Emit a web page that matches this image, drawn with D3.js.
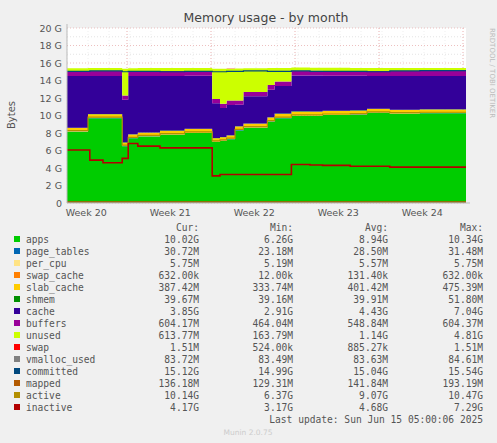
<!DOCTYPE html>
<html><head><meta charset="utf-8">
<script src="https://cdn.jsdelivr.net/npm/d3@7"></script>
<style>body{margin:0;background:#F0F0F0}svg{display:block}</style>
</head><body><svg id="c" width="497" height="443"></svg>
<script>
const T = [0,1.75,1.9,3,4.6,5.1,5.9,7.75,9.8,12.1,12.75,13.3,14,14.7,15.7,16.7,17.3,17.9,18.7,20.25,21.3,23.6,25,26.9,29.4,33.25];
const apps = [8.15,9.7,9.7,9.7,6.5,7.4,7.6,7.8,8.0,7.0,7.1,7.3,8.3,8.6,8.6,9.3,9.7,9.7,9.95,9.95,10.05,10.1,10.3,10.2,10.25,10.25];
const page_tables = T.map(()=>0.03);
const per_cpu = T.map(()=>0.006);
const swap_cache = T.map(()=>0.0006);
const slab_cache = [0.38,0.4,0.4,0.4,0.36,0.38,0.39,0.4,0.41,0.36,0.37,0.38,0.4,0.41,0.42,0.43,0.44,0.44,0.45,0.44,0.42,0.41,0.4,0.39,0.39,0.39];
const shmem = T.map(()=>0.04);
const cache = [5.9,4.35,4.35,4.35,4.85,6.65,6.45,6.25,6.05,3.95,3.3,3.45,2.45,3.1,3.1,3.15,3.15,3.15,4.1,4.1,4.0,3.95,3.75,3.85,3.8,3.8];
const buffers = [0.55,0.55,0.55,0.55,0.5,0.55,0.55,0.55,0.55,0.5,0.5,0.5,0.5,0.5,0.5,0.52,0.52,0.52,0.55,0.55,0.55,0.55,0.55,0.58,0.6,0.6];
const unused = [0.35,0.35,0.35,0.35,3.05,0.35,0.35,0.35,0.35,3.45,4.0,3.65,3.65,2.7,2.7,1.95,1.55,1.55,0.35,0.35,0.35,0.35,0.35,0.32,0.3,0.3];
const swap = T.map(()=>0.001);
const vmalloc_used = T.map(()=>0.084);
const committed = [15.05,15.05,15.1,15.1,15.0,15.05,15.05,15.0,15.05,15.0,15.0,15.05,15.05,15.1,15.1,15.05,15.05,15.05,15.1,15.05,15.05,15.05,15.0,15.1,15.12,15.12];
const mapped = T.map(()=>0.14);
const active = [8.28,9.82,9.82,9.82,6.62,7.5,7.72,7.92,8.12,7.1,7.22,7.42,8.42,8.72,8.72,9.42,9.82,9.82,10.07,10.07,10.17,10.22,10.42,10.32,10.37,10.37];
const inactive = [6.05,6.05,4.9,4.6,5.1,6.8,6.5,6.3,6.3,3.1,3.25,3.25,3.25,3.25,3.25,3.25,3.25,3.25,4.4,4.35,4.3,4.2,4.2,4.1,4.1,4.1];
const yTicks = [0,2,4,6,8,10,12,14,16,18,20];
const weeks = ["Week 20","Week 21","Week 22","Week 23","Week 24"];
const weekBounds = [5,12,19,26,33];
const legendRows = [
 ["apps","#00CC00","10.02G","6.26G","8.94G","10.34G"],
 ["page_tables","#0066B3","30.72M","23.18M","28.50M","31.48M"],
 ["per_cpu","#FFE384","5.75M","5.19M","5.57M","5.75M"],
 ["swap_cache","#FF8000","632.00k","12.00k","131.40k","632.00k"],
 ["slab_cache","#FFCC00","387.42M","333.74M","401.42M","475.39M"],
 ["shmem","#008F00","39.67M","39.16M","39.91M","51.80M"],
 ["cache","#330099","3.85G","2.91G","4.43G","7.04G"],
 ["buffers","#990099","604.17M","464.04M","548.84M","604.37M"],
 ["unused","#CCFF00","613.77M","163.79M","1.14G","4.81G"],
 ["swap","#FF0000","1.51M","524.00k","885.27k","1.51M"],
 ["vmalloc_used","#808080","83.72M","83.49M","83.63M","84.61M"],
 ["committed","#00487D","15.12G","14.99G","15.04G","15.54G"],
 ["mapped","#B35A00","136.18M","129.31M","141.84M","193.19M"],
 ["active","#B38F00","10.14G","6.37G","9.07G","10.47G"],
 ["inactive","#B30000","4.17G","3.17G","4.68G","7.29G"]];

const svg = d3.select("#c");
const x = d3.scaleLinear().domain([0,33.25]).range([67,466]);
const y = d3.scaleLinear().domain([0,20]).range([203,28]);
svg.append("rect").attr("x",67).attr("y",28).attr("width",399).attr("height",175).attr("fill","#fff");
// grid
d3.range(0,20.5,1).forEach(v=>svg.append("line").attr("x1",67).attr("x2",466).attr("y1",y(v)).attr("y2",y(v))
  .attr("stroke", v%2===0?"#e8b0b0":"#ddd").attr("stroke-dasharray","1,2").attr("stroke-width",0.8));
weekBounds.forEach(d=>svg.append("line").attr("x1",x(d)).attr("x2",x(d)).attr("y1",28).attr("y2",203)
  .attr("stroke","#e8b0b0").attr("stroke-dasharray","1,2"));
d3.range(0,33.25,1.75).forEach(d=>svg.append("line").attr("x1",x(d)).attr("x2",x(d)).attr("y1",28).attr("y2",203)
  .attr("stroke","#e4e4e4").attr("stroke-dasharray","1,2").attr("stroke-width",0.6));
// stack
const keys=["apps","page_tables","per_cpu","swap_cache","slab_cache","shmem","cache","buffers","unused","swap"];
const src={apps,page_tables,per_cpu,swap_cache,slab_cache,shmem,cache,buffers,unused,swap};
const rows=T.map((t,i)=>{const o={t};keys.forEach(k=>o[k]=src[k][i]);return o;});
const stk=d3.stack().keys(keys)(rows);
const col={}; legendRows.forEach(r=>col[r[0]]=r[1]);
const area=d3.area().curve(d3.curveStepAfter).x(d=>x(d.data.t)).y0(d=>y(d[0])).y1(d=>y(d[1]));
stk.forEach(s=>svg.append("path").attr("d",area(s)).attr("fill",col[s.key]));
const lines={vmalloc_used,committed,mapped,active,inactive};
Object.keys(lines).forEach(k=>{
  const l=d3.line().curve(d3.curveStepAfter).x((d,i)=>x(T[i])).y(d=>y(d));
  svg.append("path").attr("d",l(lines[k])).attr("fill","none").attr("stroke",col[k]).attr("stroke-width",k==="inactive"?1.6:1.2);
});
// axes
svg.append("line").attr("x1",67).attr("x2",470).attr("y1",203).attr("y2",203).attr("stroke","#bbb");
svg.append("line").attr("x1",67).attr("x2",67).attr("y1",24).attr("y2",203).attr("stroke","#bbb");
const f="DejaVu Sans";
yTicks.forEach(v=>svg.append("text").attr("x",62).attr("y",y(v)+3.5).attr("text-anchor","end")
  .attr("font-family",f).attr("font-size",9.5).attr("fill","#555").text(v===0?"0":v+" G"));
weeks.forEach((w,i)=>svg.append("text").attr("x",x(1.6+7*i)).attr("y",216).attr("text-anchor","middle")
  .attr("font-family",f).attr("font-size",9.5).attr("fill","#555").text(w));
svg.append("text").attr("x",266).attr("y",22).attr("text-anchor","middle").attr("font-family",f).attr("font-size",12.5).attr("fill","#444").text("Memory usage - by month");
svg.append("text").attr("transform","translate(15,115) rotate(-90)").attr("text-anchor","middle").attr("font-family",f).attr("font-size",10).attr("fill","#555").text("Bytes");
svg.append("text").attr("transform","translate(490,28) rotate(90)").attr("font-family",f).attr("font-size",7).attr("fill","#bbb").text("RRDTOOL / TOBI OETIKER");
// legend
const m="DejaVu Sans Mono", fs=9.6, cx=[199,293,388,483];
["Cur:","Min:","Avg:","Max:"].forEach((h,i)=>svg.append("text").attr("x",cx[i]).attr("y",231).attr("text-anchor","end").attr("font-family",m).attr("font-size",fs).attr("fill","#555").text(h));
legendRows.forEach((r,j)=>{
  const yy=243+j*12;
  svg.append("rect").attr("x",14).attr("y",yy-7).attr("width",6).attr("height",6).attr("fill",r[1]);
  svg.append("text").attr("x",26).attr("y",yy).attr("font-family",m).attr("font-size",fs).attr("fill","#555").text(r[0]);
  for(let i=0;i<4;i++) svg.append("text").attr("x",cx[i]).attr("y",yy).attr("text-anchor","end").attr("font-family",m).attr("font-size",fs).attr("fill","#555").text(r[2+i]);
});
svg.append("text").attr("x",483).attr("y",423).attr("text-anchor","end").attr("font-family",m).attr("font-size",fs).attr("fill","#555").text("Last update: Sun Jun 15 05:00:06 2025");
svg.append("text").attr("x",248).attr("y",435).attr("text-anchor","middle").attr("font-family",f).attr("font-size",7.5).attr("fill","#ccc").text("Munin 2.0.75");
</script></body></html>
